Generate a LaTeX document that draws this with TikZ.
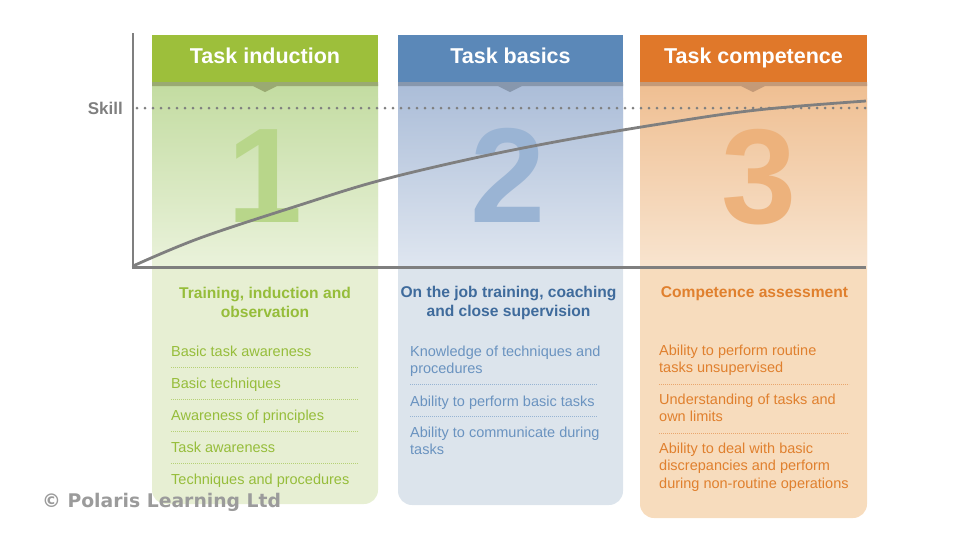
\documentclass[tikz,border=0pt]{standalone}
\usepackage{fontspec}
\setmainfont{Liberation Sans}
\newfontfamily\copyfont{DejaVu Sans}
\definecolor{gHead}{HTML}{9DBF3B}
\definecolor{gShad}{HTML}{9AAA72}
\definecolor{gTop}{HTML}{C3DCA1}
\definecolor{gBot}{HTML}{EAF2DB}
\definecolor{gLow}{HTML}{E7EFD3}
\definecolor{gDig}{HTML}{B8D68A}
\definecolor{gTxt}{HTML}{96BD3A}
\definecolor{bHead}{HTML}{5B88B8}
\definecolor{bShad}{HTML}{8797AD}
\definecolor{bTop}{HTML}{ABBDD8}
\definecolor{bBot}{HTML}{DFE6F0}
\definecolor{bLow}{HTML}{DCE4EC}
\definecolor{bDig}{HTML}{9AB4D4}
\definecolor{bTit}{HTML}{3F6B9C}
\definecolor{bTxt}{HTML}{6A93C0}
\definecolor{oHead}{HTML}{E0782A}
\definecolor{oShad}{HTML}{C49A78}
\definecolor{oTop}{HTML}{EFBF92}
\definecolor{oBot}{HTML}{F8E4CF}
\definecolor{oLow}{HTML}{F7DCBD}
\definecolor{oDig}{HTML}{EDB27C}
\definecolor{oTxt}{HTML}{E0802E}
\definecolor{axisgrey}{HTML}{7F7F7F}
\definecolor{copygrey}{HTML}{9B9B9B}
\newcommand\leftlines[1]{\begin{tabular}[t]{@{}l@{}}#1\end{tabular}}
\newcommand\centerlines[1]{\begin{tabular}[t]{@{}c@{}}#1\end{tabular}}
\tikzset{
  hdrtext/.style={anchor=base, text=white, inner sep=0pt, font=\fontsize{21.5}{24}\selectfont\bfseries},
  digit/.style={anchor=base, inner sep=0pt, font=\fontsize{135}{135}\selectfont\bfseries},
  title/.style={anchor=base, inner sep=0pt, font=\fontsize{15.6}{19}\selectfont\bfseries},
  item/.style={anchor=base west, inner sep=0pt, font=\fontsize{14.5}{17.6}\selectfont},
  sepline/.style={line width=0.8pt, dash pattern=on 0.8pt off 1.2pt},
}
\begin{document}
\begin{tikzpicture}[x=1pt,y=-1pt]
\useasboundingbox (0,0) rectangle (962,550);
% ---------- panels ----------
% column 1
\fill[gLow, rounded corners=14pt] (152,84) rectangle (378,504);
\shade[top color=gTop, bottom color=gBot] (152,84) rectangle (378,267);
\fill[gHead] (152,35) rectangle (378,82);
\fill[gShad] (152,82) -- (378,82) -- (378,86) -- (277,86) -- (265,92) -- (253,86) -- (152,86) -- cycle;
% column 2
\fill[bLow, rounded corners=14pt] (398,84) rectangle (623,505);
\shade[top color=bTop, bottom color=bBot] (398,84) rectangle (623,267);
\fill[bHead] (398,35) rectangle (623,82);
\fill[bShad] (398,82) -- (623,82) -- (623,86) -- (522,86) -- (510,92) -- (498,86) -- (398,86) -- cycle;
% column 3
\fill[oLow, rounded corners=14pt] (640,84) rectangle (867,518);
\shade[top color=oTop, bottom color=oBot] (640,84) rectangle (867,267);
\fill[oHead] (640,35) rectangle (867,82);
\fill[oShad] (640,82) -- (867,82) -- (867,86) -- (765,86) -- (753,92) -- (741,86) -- (640,86) -- cycle;
% ---------- header texts ----------
\node[hdrtext] (h1) at (265,63.5) {Task induction};
\node[hdrtext] (h2) at (510.5,63.5) {Task basics};
\node[hdrtext] (h3) at (753.5,63.5) {Task competence};
% ---------- digits ----------
\node[digit, text=gDig] (d1) at (265,222) {1};
\node[digit, text=bDig] (d2) at (508.5,222) {2};
\node[digit, text=oDig] (d3) at (759,223) {3};
% ---------- skill line ----------
\draw[axisgrey, line width=3pt, line cap=round, dash pattern=on 0pt off 8pt] (137,108) -- (866,108);
\node[anchor=base east, inner sep=0pt, text=axisgrey, font=\fontsize{17}{20}\selectfont\bfseries] (skill) at (123,114) {Skill};
% ---------- axes ----------
\draw[axisgrey, line width=2.6pt] (133,33) -- (133,267);
\draw[axisgrey, line width=3pt] (131.7,267) -- (866,267);
% ---------- curve ----------
\draw[axisgrey, line width=2.8pt] plot[smooth, tension=0.6] coordinates {(133,266) (200,238) (300,205) (378,181) (470,159) (560,141) (660,124) (757,110) (866,101)};
% ---------- column 1 text ----------
\node[title, text=gTxt] (t1) at (265,298) {\centerlines{Training, induction and\\observation}};
\node[item, text=gTxt] (a1) at (171,356) {Basic task awareness};
\node[item, text=gTxt] (a2) at (171,388) {Basic techniques};
\node[item, text=gTxt] (a3) at (171,420) {Awareness of principles};
\node[item, text=gTxt] (a4) at (171,452) {Task awareness};
\node[item, text=gTxt] (a5) at (171,484) {Techniques and procedures};
\foreach \yy in {367,399,431,463} \draw[sepline, gTxt!70] (171,\yy) -- (358,\yy);
% ---------- column 2 text ----------
\node[title, text=bTit] (t2) at (508.5,297) {\centerlines{On the job training, coaching\\and close supervision}};
\node[item, text=bTxt] (b1) at (410,356) {\leftlines{Knowledge of techniques and\\procedures}};
\node[item, text=bTxt] (b2) at (410,406) {Ability to perform basic tasks};
\node[item, text=bTxt] (b3) at (410,437) {\leftlines{Ability to communicate during\\tasks}};
\foreach \yy in {384,416} \draw[sepline, bTxt!70] (410,\yy) -- (597,\yy);
% ---------- column 3 text ----------
\node[title, text=oTxt] (t3) at (754.5,297) {Competence assessment};
\node[item, text=oTxt] (c1) at (659,355) {\leftlines{Ability to perform routine\\tasks unsupervised}};
\node[item, text=oTxt] (c2) at (659,404) {\leftlines{Understanding of tasks and\\own limits}};
\node[item, text=oTxt] (c3) at (659,453) {\leftlines{Ability to deal with basic\\discrepancies and perform\\during non-routine operations}};
\foreach \yy in {384,433} \draw[sepline, oTxt!70] (659,\yy) -- (849,\yy);
% ---------- copyright ----------
\node[anchor=base west, inner sep=0pt, text=copygrey, font=\copyfont\fontsize{18.8}{21}\selectfont\bfseries] (copy) at (42,507.5) {© Polaris Learning Ltd};
\end{tikzpicture}
\end{document}
